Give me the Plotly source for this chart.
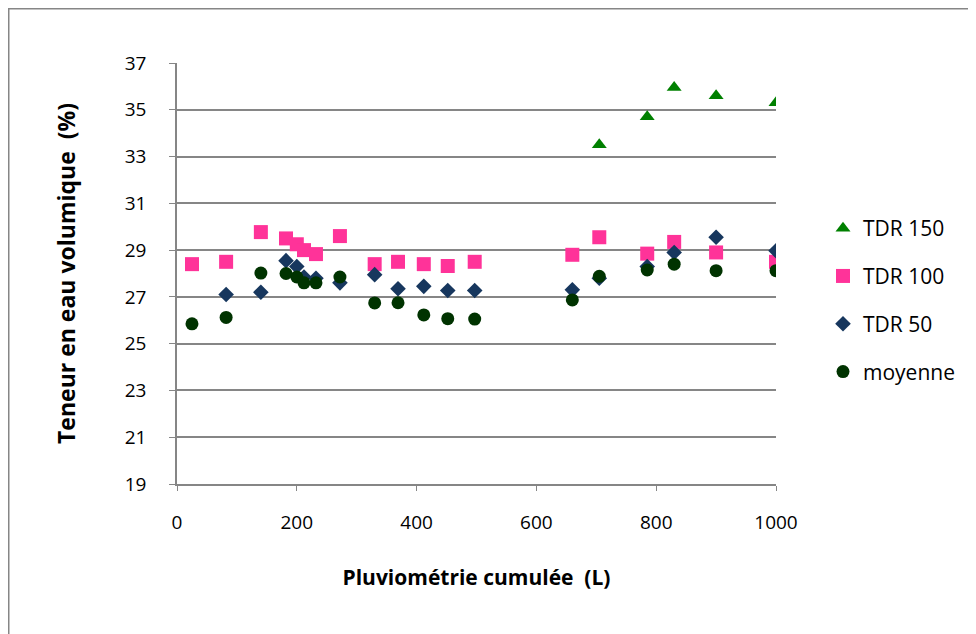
import plotly.graph_objects as go

# Data
x_all = [25, 82, 140, 182, 200, 212, 232, 272, 330, 369, 412, 452, 497, 660, 705, 785, 830, 900, 1000]

tdr150_x = [705, 785, 830, 900, 1000]
tdr150_y = [33.5, 34.7, 35.95, 35.6, 35.3]

tdr100_x = x_all
tdr100_y = [28.4, 28.5, 29.77, 29.5, 29.25, 29.0, 28.83, 29.6, 28.4, 28.5, 28.4, 28.32, 28.5,
            28.8, 29.55, 28.85, 29.35, 28.9, 28.5]

tdr50_x = x_all[1:]
tdr50_y = [27.1, 27.2, 28.55, 28.3, 27.85, 27.8, 27.6, 27.95, 27.35, 27.45, 27.27, 27.27,
           27.3, 27.8, 28.3, 28.9, 29.55, 28.97]

moy_x = x_all
moy_y = [25.85, 26.12, 28.02, 28.0, 27.85, 27.6, 27.6, 27.85, 26.74, 26.75, 26.23, 26.07, 26.05,
         26.87, 27.88, 28.15, 28.4, 28.12, 28.12]

y_ticks = [19, 21, 23, 25, 27, 29, 31, 33, 35, 37]
x_ticks = [0, 200, 400, 600, 800, 1000]

FONT = "'Open Sans', Lato, 'DejaVu Sans', sans-serif"

fig = go.Figure()
fig.add_trace(go.Scatter(x=tdr150_x, y=tdr150_y, mode="markers", name="TDR 150",
                         legendgroup="a",
                         marker=dict(symbol="triangle-up", size=13, color="#008000")))
fig.add_trace(go.Scatter(x=tdr100_x, y=tdr100_y, mode="markers", name="TDR 100",
                         legendgroup="b",
                         marker=dict(symbol="square", size=14, color="#FF3399")))
fig.add_trace(go.Scatter(x=tdr50_x, y=tdr50_y, mode="markers", name="TDR 50",
                         legendgroup="c",
                         marker=dict(symbol="diamond", size=12, color="#17375E")))
fig.add_trace(go.Scatter(x=moy_x, y=moy_y, mode="markers", name="moyenne",
                         legendgroup="d",
                         marker=dict(symbol="circle", size=13, color="#003300")))

# plot area in figure pixels: x 169..768, y 55..476 (page has 8px body offset)
L, R, T, B = 169, 208, 55, 158
PW, PH = 976 - L - R, 634 - T - B

fig.update_layout(
    width=976, height=634,
    margin=dict(l=L, r=R, t=T, b=B),
    paper_bgcolor="white", plot_bgcolor="white",
    font=dict(family=FONT, size=19, color="#000000"),
    showlegend=True,
    legend=dict(x=(815 - L) / PW, y=(476 - 200) / PH, xanchor="left", yanchor="top",
                traceorder="grouped", tracegroupgap=17.5,
                font=dict(size=21, color="#000000"), bgcolor="rgba(0,0,0,0)"),
    xaxis=dict(range=[0, 1000], tickvals=x_ticks, showgrid=False, zeroline=False,
               showline=True, linecolor="#868686", linewidth=1.5,
               ticks="outside", ticklen=5, tickcolor="#868686",
               ticklabelstandoff=15,
               title=dict(text="<b>Pluviométrie cumulée  (L)</b>", standoff=37,
                          font=dict(size=21))),
    yaxis=dict(range=[19, 37], tickvals=y_ticks, showgrid=True, gridcolor="#868686",
               gridwidth=2, zeroline=False,
               showline=True, linecolor="#868686", linewidth=1.5,
               ticks="outside", ticklen=6, tickcolor="#868686",
               ticklabelstandoff=19,
               title=dict(text="<b>Teneur en eau volumique  (%)</b>", standoff=43,
                          font=dict(size=23))),
    shapes=[dict(type="rect", xref="paper", yref="paper",
                 x0=(0.75 - L) / PW, x1=(1000 - L) / PW,
                 y0=(476 - 700) / PH, y1=(476 - 0.75) / PH,
                 line=dict(color="#868686", width=1.5), fillcolor="rgba(0,0,0,0)",
                 layer="below")],
)

fig.write_html("out.html")
